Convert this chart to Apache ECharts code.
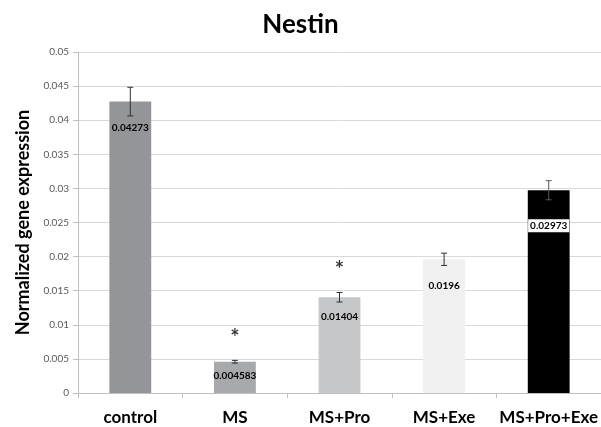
<!DOCTYPE html>
<html>
<head>
<meta charset="utf-8">
<script src="https://cdn.jsdelivr.net/npm/echarts@6/dist/echarts.min.js"></script>
<style>html,body{margin:0;padding:0;background:#fff;}#c{width:601px;height:427px;}</style>
</head>
<body>
<div id="c"></div>
<script>
var categories = ['control', 'MS', 'MS+Pro', 'MS+Exe', 'MS+Pro+Exe'];
var values = [0.04273, 0.004583, 0.01404, 0.0196, 0.02973];
var errors = [0.0021, 0.0002, 0.0007, 0.0009, 0.0014];
var starValues = [null, 0.0089, 0.019, null, null];
var yTicks = [0, 0.005, 0.01, 0.015, 0.02, 0.025, 0.03, 0.035, 0.04, 0.045, 0.05];

var barColors = ['#939598', '#a7a9ac', '#c6c7c9', '#f0f0f1', '#000000'];
var labelDistances = [21, 9, 15, 21, 29];
var FONT = 'Lato';

var chart = echarts.init(document.getElementById('c'), null, {renderer: 'canvas'});
var option = {
  animation: false,
  title: {
    text: 'Nestin', left: 'center', top: 7,
    textStyle: {fontFamily: FONT, fontWeight: 'bold', fontSize: 26, color: '#000'}
  },
  grid: {left: 78, top: 52, width: 527, bottom: 34, containLabel: false},
  xAxis: {
    type: 'category', data: categories,
    axisLine: {show: true, lineStyle: {color: '#bfbfbf'}},
    axisTick: {show: true, length: 5, lineStyle: {color: '#bfbfbf'}},
    axisLabel: {interval: 0, fontFamily: FONT, fontWeight: 'bold', fontSize: 17, color: '#000', margin: 16}
  },
  yAxis: {
    type: 'value', min: 0, max: 0.05, interval: 0.005,
    name: 'Normalized gene expression', nameLocation: 'middle', nameGap: 46,
    nameTextStyle: {fontFamily: FONT, fontWeight: 'bold', fontSize: 18, color: '#000'},
    axisLine: {show: true, lineStyle: {color: '#bfbfbf'}},
    axisTick: {show: true, length: 5, lineStyle: {color: '#bfbfbf'}},
    axisLabel: {fontFamily: FONT, fontSize: 10, color: '#595959', margin: 9,
      formatter: function (v) { return String(+v.toFixed(3)); }},
    splitLine: {show: true, lineStyle: {color: '#d9d9d9', width: 1}}
  },
  series: [
    {
      type: 'bar', barWidth: '40%',
      data: values.map(function (v, i) {
        var lab = {distance: labelDistances[i]};
        if (i === 4) { lab.backgroundColor = '#fff'; lab.padding = [2, 2, 1, 2]; }
        return {value: v, itemStyle: {color: barColors[i]}, label: lab};
      }),
      label: {show: true, position: 'insideTop', fontFamily: FONT, fontWeight: 'bold', fontSize: 10, color: '#000',
        formatter: function (p) { return String(values[p.dataIndex]); }}
    },
    {
      type: 'custom', z: 5,
      data: values.map(function (v, i) { return [i, v, errors[i]]; }),
      renderItem: function (params, api) {
        var i = api.value(0), v = api.value(1), e = api.value(2);
        var top = api.coord([i, v + e]);
        var bot = api.coord([i, v - e]);
        var x = top[0], hw = 3;
        var col = i === 4 ? '#595959' : '#303030';
        return {type: 'group', children: [
          {type: 'line', shape: {x1: x, y1: top[1], x2: x, y2: bot[1]}, style: {stroke: col, lineWidth: 1}},
          {type: 'line', shape: {x1: x - hw, y1: top[1], x2: x + hw, y2: top[1]}, style: {stroke: col, lineWidth: 1}},
          {type: 'line', shape: {x1: x - hw, y1: bot[1], x2: x + hw, y2: bot[1]}, style: {stroke: col, lineWidth: 1}}
        ]};
      }
    },
    {
      type: 'scatter', symbolSize: 0, z: 6,
      data: starValues.map(function (v, i) { return v === null ? null : [i, v]; }).filter(function (d) { return d; }),
      label: {show: true, position: 'inside', offset: [0, 6], formatter: '*', fontFamily: FONT, fontWeight: 'bold', fontSize: 22, color: '#000'}
    }
  ]
};
chart.setOption(option);
</script>
</body>
</html>
